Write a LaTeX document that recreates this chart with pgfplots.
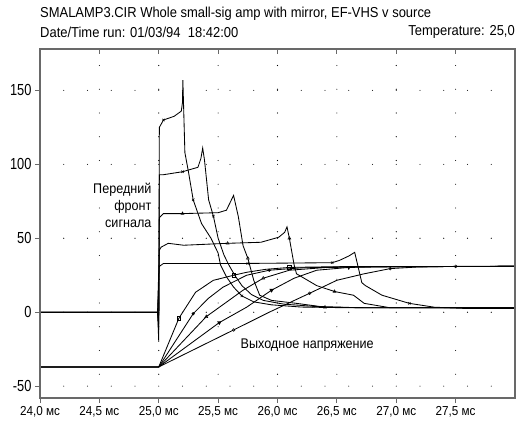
\documentclass[border=0pt]{standalone}
\usepackage{pgfplots}
\pgfplotsset{compat=1.18}
\usepackage{fontspec}
\setmainfont{Liberation Sans}[FakeStretch=0.9]
\newfontfamily\ynumfont{Liberation Sans}[FakeStretch=0.8]
\definecolor{framegray}{RGB}{105,105,105}
\begin{document}
\begin{tikzpicture}[x=1pt,y=1pt]
\path[use as bounding box] (0,0) rectangle (516,425);
\pgfplotsset{
  refaxis/.style={
    at={(40pt,27pt)}, anchor=south west,
    scale only axis, width=475pt, height=349pt,
    xmin=24, xmax=28, ymin=-58, ymax=178,
    axis line style={draw=framegray, line width=1.1pt},
    major tick length=5pt,
    tick style={draw=framegray, line width=0.9pt},
  }
}
\begin{axis}[refaxis,
  xtick={24,24.5,25,25.5,26,26.5,27,27.5},
  xticklabels={{24,0 мс},{24,5 мс},{25,0 мс},{25,5 мс},{26,0 мс},{26,5 мс},{27,0 мс},{27,5 мс}},
  ytick={-50,0,50,100,150},
  yticklabels={-50,0,50,100,150},
  xtick pos=bottom, ytick pos=left, tick align=outside,
  xticklabel style={font=\fontsize{13}{13}\selectfont},
  yticklabel style={font=\ynumfont\fontsize{16}{16}\selectfont},
  grid=major,
  major grid style={draw=black, line width=1.1pt, line cap=round, dash pattern=on 0pt off 23.75pt},
  every axis plot/.append style={black, line width=0.85pt, mark size=1.7pt, mark options={solid, line width=0.5pt}},
]
% ---- leading-edge (front) signals ----
\addplot[mark=x, mark indices={5,13,20}] coordinates {
(24.0,0) (24.99,0) (25.0,-20) (25.005,125) (25.04,130) (25.13,132.5) (25.19,136) (25.2,142) (25.203,157) (25.208,143)
(25.22,108) (25.25,95) (25.29,76) (25.36,60) (25.44,50) (25.5,40) (25.52,32) (25.57,24) (25.63,17) (25.7,11)
(25.8,7) (25.95,5) (26.2,3.5) (26.6,3) (28.0,3)};
\addplot[mark=x, mark indices={6,12,21}] coordinates {
(24.0,0) (24.99,0) (25.0,-12) (25.005,93) (25.04,93) (25.2,95) (25.33,98) (25.355,104) (25.37,111) (25.385,103)
(25.42,76) (25.46,65) (25.5,50) (25.55,38.5) (25.59,32) (25.64,25) (25.7,18) (25.78,12) (25.88,8) (26.05,5.5)
(26.3,4) (26.7,3) (28.0,3)};
\addplot[mark=triangle, mark indices={6,12,17}] coordinates {
(24.0,0) (24.99,0) (25.0,-8) (25.005,64) (25.04,66.7) (25.2,66.7) (25.5,67.3) (25.57,69) (25.63,79) (25.67,64.7)
(25.71,45) (25.75,36.5) (25.8,21.6) (25.85,11.5) (25.95,8) (26.16,6) (26.4,3.4) (26.8,3) (28.0,3)};
\addplot[mark=triangle, mark indices={7,12,16}] coordinates {
(24.0,0) (24.99,0) (25.005,42) (25.02,44) (25.08,46.6) (25.21,45.3) (25.58,46.6) (25.86,47.3) (26.01,50.7) (26.06,54)
(26.08,57.7) (26.1,50) (26.14,32) (26.16,26) (26.33,18) (26.48,14) (26.64,11.5) (26.73,6) (26.95,3) (28.0,3)};
\addplot[mark=x, mark indices={5,6,13}] coordinates {
(24.0,0) (24.99,0) (25.005,31) (25.04,33) (25.75,33) (26.46,33.5) (26.52,35) (26.6,38) (26.65,40.5) (26.71,20)
(26.74,18) (26.88,11.5) (27.11,6) (27.32,3.4) (27.6,2.5) (28.0,2.5)};
% ---- output voltages ----
\addplot[mark=square, mark indices={3,6,9}] coordinates {
(24.0,-37) (25.0,-37) (25.17,-4) (25.31,13.5) (25.46,21.6) (25.63,25) (25.74,27) (25.9,29) (26.1,30.3) (26.5,30.8) (28.0,31)};
\addplot[mark=*, mark size=1.3pt, mark indices={3,7}] coordinates {
(24.0,-37) (25.0,-37) (25.29,-1) (25.42,9.5) (25.54,16.9) (25.74,25) (25.93,28.4) (26.2,30) (26.6,30.7) (28.0,31)};
\addplot[mark=triangle, mark indices={3,6}] coordinates {
(24.0,-37) (25.0,-37) (25.4,-3) (25.57,6.8) (25.71,14.9) (25.88,23) (26.1,28.4) (26.4,30.2) (26.8,30.8) (28.0,31)};
\addplot[mark=triangle, mark options={rotate=180}, mark indices={3,5,8}] coordinates {
(24.0,-37) (25.0,-37) (25.51,-7) (25.74,3.4) (25.95,14.9) (26.14,23) (26.33,28.4) (26.6,30.3) (27.0,30.8) (28.0,31)};
\addplot[mark=o, mark size=1.4pt, mark indices={3,5,8,10}] coordinates {
(24.0,-37) (25.0,-37) (25.63,-12) (25.93,0) (26.27,12.8) (26.5,21.6) (26.73,26) (26.95,29.5) (27.18,30.6) (27.5,31) (28.0,31.2)};
% ---- annotations ----
\node[anchor=east, align=right, font=\fontsize{14}{17}\selectfont, inner sep=0pt] at (axis cs:24.94,72.5) {Передний\\фронт\\сигнала};
\node[font=\fontsize{14}{14}\selectfont, inner sep=0pt] at (axis cs:26.25,-22) {Выходное напряжение};
\end{axis}
\begin{axis}[refaxis,
  xtick={24,24.5,25,25.5,26,26.5,27,27.5}, xticklabels={},
  ytick=\empty,
  xtick pos=top, tick align=inside,
]
\end{axis}
\node[anchor=west, font=\fontsize{14.4}{14.4}\selectfont, inner sep=0pt] at (40,411) {SMALAMP3.CIR Whole small-sig amp with mirror, EF-VHS v source};
\node[anchor=west, font=\fontsize{14.4}{14.4}\selectfont, inner sep=0pt] at (40,393) {Date/Time run: 01/03/94\ \ 18:42:00};
\node[anchor=east, font=\fontsize{14.4}{14.4}\selectfont, inner sep=0pt] at (515,393) {Temperature: 25,0};
\end{tikzpicture}
\end{document}
